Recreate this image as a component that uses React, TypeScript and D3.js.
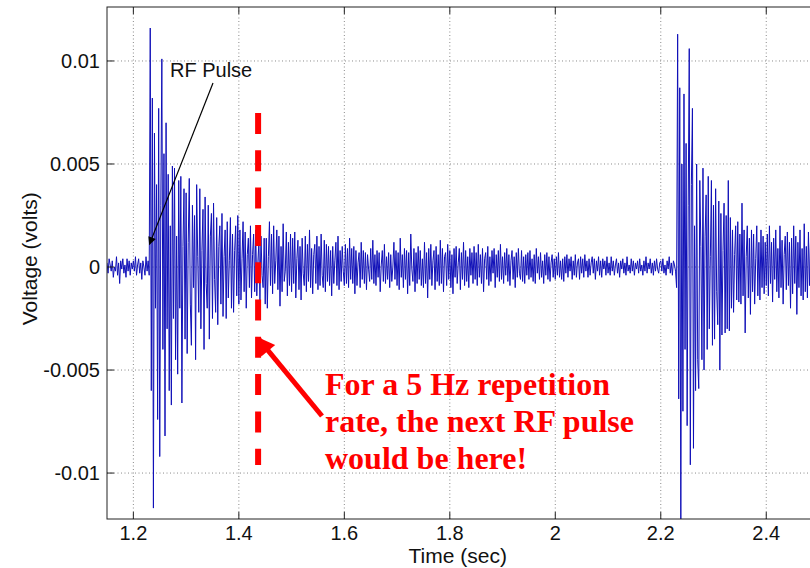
import React from "react";
import * as d3 from "d3";

// sampled trace, values in units of 0.1 mV, one sample every 2 ms from t0
const t0 = 1.15;
const dt = 0.002;

// t 1.150 - 1.198
const preTrigger = [2,-3,4,1,-2,3,-5,0,-2,5,-4,2,-8,3,-1,4,-3,1,-5,4,-2,3,-4,2,-1];

// t 1.200 - 1.598
const firstEcho = [
  3,-2,5,-4,1,4,-3,2,-6,3,0,-4,5,-2,3,-4,116,-60,82,-117,65,-20,40,-74,77,
  -92,30,101,-40,55,-82,70,-30,45,-60,20,-67,49,-25,48,-45,15,-52,42,-20,44,-66,10,38,-35,
  36,-42,12,43,-18,-38,30,-10,25,-45,40,5,-22,38,-30,8,28,-40,34,-8,-20,30,-35,15,26,
  -25,31,-6,-22,24,-28,10,20,-18,26,-24,5,18,-25,22,-15,3,24,-20,16,-22,8,20,-14,25,
  -18,18,-16,4,22,-12,17,-20,6,14,-10,20,-15,6,16,-12,18,-14,2,12,-16,15,-4,-10,14,
  -18,14,-20,5,22,-9,16,-13,20,-8,3,18,-11,15,-19,10,-12,21,-7,-2,17,-14,12,-9,16,
  -12,14,-8,17,-15,4,13,-11,10,-16,14,-3,-9,15,-12,11,-7,18,-10,9,-13,6,11,-8,15,
  -11,10,-9,16,-4,-10,13,-12,11,-7,10,-9,8,-14,10,-8,3,12,-9,15,-11,8,-7,10,-2
];

// t 1.600 - 2.198
const restNoise = [
  -9,11,-8,9,-10,14,-6,9,-8,10,-13,8,-9,2,7,-10,12,-6,8,-8,7,-11,6,-1,-7,
  9,-6,13,-8,6,-9,8,-5,7,-12,1,8,-7,11,-8,5,-6,7,-10,6,-7,0,12,-6,8,
  -9,7,-11,14,-5,6,-10,9,-6,8,-13,7,-9,16,-1,-7,9,-12,7,-8,10,-6,8,-9,4,
  -10,12,-8,7,-15,9,-6,11,-9,3,8,-11,10,-7,6,-9,13,-8,9,-12,5,7,-9,11,-6,
  8,-10,6,-13,9,-5,10,-8,2,9,-11,7,-6,12,-9,8,-7,5,-10,9,-4,7,-8,10,-6,
  7,-9,11,-5,6,-8,9,-12,4,7,-6,10,-9,5,-7,8,-3,9,-10,6,-5,8,-7,11,-6,
  5,-8,7,-4,9,-7,6,-9,3,8,-6,5,-10,7,-5,9,-3,-6,8,-7,5,-8,6,-4,7,
  -6,8,-5,4,-7,6,-8,9,-3,5,-6,7,-5,3,-8,6,-4,7,-6,5,-7,2,6,-5,4,
  -6,5,-4,7,-5,3,-6,4,-7,5,-3,6,-5,4,-2,5,-6,3,-4,6,-5,2,4,-6,5,
  -3,4,-5,6,-2,3,-5,4,-4,2,5,-3,4,-6,3,-2,5,-4,3,-5,4,-1,3,-4,5,
  -3,2,-4,5,-2,3,-4,1,4,-3,2,-5,3,-1,4,-3,2,-4,5,-2,1,-3,4,-2,3,
  -4,2,-1,3,-3,4,-2,1,-4,3,-2,5,-3,2,-1,4,-3,2,-4,3,-2,4,-1,-3,2
];

// t 2.200 - 2.498
const secondEcho = [
  3,-2,4,-3,1,-4,3,-1,5,-3,2,-4,3,1,-2,-10,113,-64,87,-130,50,-70,84,-40,60,
  -77,30,106,-96,40,77,-88,20,-60,50,-45,-59,42,10,-45,48,-50,15,35,-40,44,-30,5,42,-38,
  30,-35,38,-12,-28,32,-50,26,-33,8,31,-32,25,-30,42,-31,24,-20,18,-22,6,20,-16,22,-17,
  16,-18,31,-14,18,-32,5,20,-15,14,-23,18,-12,16,-18,4,20,-14,12,-16,18,-10,15,-13,12,
  -9,16,-14,20,-8,12,-17,14,-6,18,-12,9,-15,20,-10,13,-18,6,15,-11,17,-9,12,-20,14,
  -13,20,-8,15,-23,12,-10,18,-14,9,-16,21,-12,10,-15,17,-9,13,-18,11,-7,16,-12,14,-10
];

const xTicks = [1.2, 1.4, 1.6, 1.8, 2, 2.2, 2.4];
const xTickLabels = ["1.2", "1.4", "1.6", "1.8", "2", "2.2", "2.4"];
const yTicks = [0.01, 0.005, 0, -0.005, -0.01];
const yTickLabels = ["0.01", "0.005", "0", "-0.005", "-0.01"];

const nextPulseTime = 1.4365;
const noteLines = ["For a 5 Hz repetition", "rate, the next RF pulse", "would be here!"];

export default function App() {
  const W = 810, H = 568;
  const m = { left: 107, top: 7, right: 819, bottom: 519 };

  const x = d3.scaleLinear().domain([1.15, 2.5]).range([m.left, m.right]);
  const y = d3.scaleLinear().domain([-0.01223, 0.01262]).range([m.bottom, m.top]);

  const trace = [...preTrigger, ...firstEcho, ...restNoise, ...secondEcho]
    .map((v, i) => [t0 + i * dt, v * 1e-4] as [number, number]);

  const line = d3.line<[number, number]>()
    .x(d => x(d[0]))
    .y(d => y(d[1]));

  const font = "'Liberation Sans', Arial, sans-serif";
  const xr = x(nextPulseTime);

  return (
    <svg width={W} height={H} style={{ position: "absolute", left: 0, top: 0 }}
      xmlns="http://www.w3.org/2000/svg">
      <defs>
        <clipPath id="plotclip">
          <rect x={m.left} y={m.top} width={m.right - m.left} height={m.bottom - m.top} />
        </clipPath>
        <marker id="blackhead" viewBox="0 0 10 10" refX="9" refY="5"
          markerWidth="12" markerHeight="8" markerUnits="userSpaceOnUse" orient="auto">
          <path d="M0,0 L10,5 L0,10 z" fill="#000" />
        </marker>
        <marker id="redhead" viewBox="0 0 10 10" refX="8" refY="5"
          markerWidth="22" markerHeight="18" markerUnits="userSpaceOnUse" orient="auto">
          <path d="M0,0 L10,5 L0,10 z" fill="#ff0000" />
        </marker>
      </defs>
      <rect x={0} y={0} width={W} height={H} fill="#fff" />

      {/* grid */}
      <g stroke="#8a8a8a" strokeWidth={1} strokeDasharray="1,2.5">
        {xTicks.map(t => (
          <line key={"gx" + t} x1={x(t)} x2={x(t)} y1={m.top} y2={m.bottom} />
        ))}
        {yTicks.map(t => (
          <line key={"gy" + t} x1={m.left} x2={m.right} y1={y(t)} y2={y(t)} />
        ))}
      </g>

      {/* signal */}
      <g clipPath="url(#plotclip)">
        <path d={line(trace) || ""} fill="none" stroke="#1010b8" strokeWidth={1} />
      </g>

      {/* axes box + ticks */}
      <rect x={m.left} y={m.top} width={m.right - m.left} height={m.bottom - m.top}
        fill="none" stroke="#222" strokeWidth={1} />
      <g stroke="#222" strokeWidth={1}>
        {xTicks.map(t => (
          <g key={"tx" + t}>
            <line x1={x(t)} x2={x(t)} y1={m.bottom} y2={m.bottom - 7} />
            <line x1={x(t)} x2={x(t)} y1={m.top} y2={m.top + 7} />
          </g>
        ))}
        {yTicks.map(t => (
          <line key={"ty" + t} x1={m.left} x2={m.left + 7} y1={y(t)} y2={y(t)} />
        ))}
      </g>

      {/* tick labels */}
      <g fontFamily={font} fontSize={20} fill="#111">
        {xTicks.map((t, i) => (
          <text key={"lx" + t} x={x(t)} y={540} textAnchor="middle">{xTickLabels[i]}</text>
        ))}
        {yTicks.map((t, i) => (
          <text key={"ly" + t} x={100} y={y(t) + 7} textAnchor="end">{yTickLabels[i]}</text>
        ))}
      </g>

      <text x={x(1.815)} y={563} textAnchor="middle" fontFamily={font} fontSize={21} fill="#111">
        Time (sec)
      </text>
      <text transform={`translate(37,${y(0.0004)}) rotate(-90)`} textAnchor="middle"
        fontFamily={font} fontSize={21} fill="#111">
        Voltage (volts)
      </text>

      {/* RF pulse label */}
      <text x={170} y={77} fontFamily={font} fontSize={20} fill="#111">RF Pulse</text>
      <line x1={213} y1={83} x2={x(1.2305)} y2={y(0.0011)} stroke="#000" strokeWidth={1.2}
        markerEnd="url(#blackhead)" />

      {/* next pulse marker */}
      <line x1={xr} x2={xr} y1={113} y2={465} stroke="#ff0000" strokeWidth={6}
        strokeDasharray="21,16.3" />
      <line x1={322} y1={416} x2={xr + 1} y2={y(-0.00352)} stroke="#ff0000" strokeWidth={5}
        markerEnd="url(#redhead)" />
      <g fontFamily="'Liberation Serif', 'Times New Roman', serif" fontWeight="bold"
        fontSize={32} fill="#ff0000">
        {noteLines.map((s, i) => (
          <text key={s} x={325} y={395 + i * 37}>{s}</text>
        ))}
      </g>
    </svg>
  );
}
